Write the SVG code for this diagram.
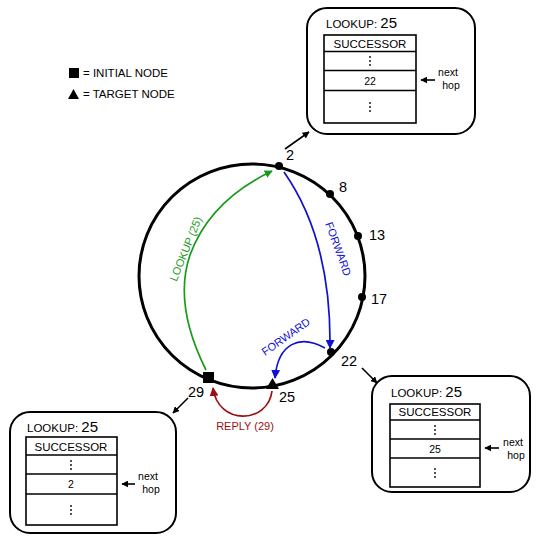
<svg xmlns="http://www.w3.org/2000/svg" width="536" height="537" viewBox="0 0 536 537">
<style>
text{font-family:"Liberation Sans",Arial,sans-serif;fill:#000}
.box{fill:#fff;stroke:#000;stroke-width:2}
.tbl{fill:#fff;stroke:#000;stroke-width:1.6}
.num{font-size:14.5px}
.t10{font-size:10.5px}
.hd{font-size:11.5px}
.lg{font-size:11.5px}
.lk{font-size:11.5px}
.big{font-size:15px}
.blk{stroke:#000;stroke-width:1.6;fill:none}
.dot{fill:#000}
</style>
<defs>
<marker id="ak" viewBox="0 0 10 10" refX="9" refY="5" markerWidth="7" markerHeight="7" markerUnits="userSpaceOnUse" orient="auto"><path d="M0,0 L10,5 L0,10 z" fill="#000"/></marker>
<marker id="ag" viewBox="0 0 10 10" refX="9" refY="5" markerWidth="8" markerHeight="8" markerUnits="userSpaceOnUse" orient="auto"><path d="M0,0 L10,5 L0,10 z" fill="#1a9a1a"/></marker>
<marker id="ab" viewBox="0 0 10 10" refX="9" refY="5" markerWidth="9" markerHeight="9" markerUnits="userSpaceOnUse" orient="auto"><path d="M0,0 L10,5 L0,10 z" fill="#1010d0"/></marker>
<marker id="ar" viewBox="0 0 10 10" refX="9" refY="5" markerWidth="9" markerHeight="9" markerUnits="userSpaceOnUse" orient="auto"><path d="M0,0 L10,5 L0,10 z" fill="#9a1010"/></marker>
<g id="vdots"><circle cx="0" cy="-4" r="0.9" class="dot"/><circle cx="0" cy="0" r="0.9" class="dot"/><circle cx="0" cy="4" r="0.9" class="dot"/></g>
</defs>

<g id="legend">
<rect x="69" y="68" width="10" height="10" fill="#000"/>
<text x="83" y="77" class="lg">= INITIAL NODE</text>
<path d="M68,99 L73.5,89 L79,99 z" fill="#000"/>
<text x="83" y="98" class="lg">= TARGET NODE</text>
</g>

<g id="ring">
<ellipse cx="252" cy="276" rx="113" ry="112" fill="none" stroke="#000" stroke-width="3"/>
</g>

<g id="node-2"><circle cx="279" cy="166" r="4" fill="#000"/><text x="286" y="160" class="num">2</text></g>
<g id="node-8"><circle cx="330" cy="194" r="4" fill="#000"/><text x="339" y="192" class="num">8</text></g>
<g id="node-13"><circle cx="358" cy="236" r="4" fill="#000"/><text x="369" y="240" class="num">13</text></g>
<g id="node-17"><circle cx="362" cy="297" r="4" fill="#000"/><text x="371" y="304" class="num">17</text></g>
<g id="node-22"><circle cx="331" cy="352" r="4" fill="#000"/><text x="341" y="366" class="num">22</text></g>
<g id="node-25"><path d="M266,389 L272.5,378 L279,389 z" fill="#000"/><text x="279" y="402" class="num">25</text></g>
<g id="node-29"><rect x="203" y="372" width="11" height="11" fill="#000"/><text x="188" y="397" class="num">29</text></g>

<g id="box-top">
<rect x="307" y="8" width="168" height="126" rx="20" class="box"/>
<text x="326" y="28"><tspan class="lk">LOOKUP: </tspan><tspan class="big">25</tspan></text>
<rect x="324" y="35" width="92" height="88" class="tbl"/>
<line x1="324" y1="51.5" x2="416" y2="51.5" class="blk"/>
<line x1="324" y1="70.5" x2="416" y2="70.5" class="blk"/>
<line x1="324" y1="90.5" x2="416" y2="90.5" class="blk"/>
<text x="370" y="47.5" class="hd" text-anchor="middle">SUCCESSOR</text>
<use href="#vdots" x="370" y="61"/>
<text x="370" y="85" class="t10" text-anchor="middle">22</text>
<use href="#vdots" x="370" y="107"/>
<text x="448" y="76" class="t10" text-anchor="middle">next</text>
<text x="451" y="89" class="t10" text-anchor="middle">hop</text>
</g>

<g id="box-right">
<rect x="372" y="376" width="158" height="116" rx="20" class="box"/>
<text x="391" y="397"><tspan class="lk">LOOKUP: </tspan><tspan class="big">25</tspan></text>
<rect x="390" y="404" width="90" height="83" class="tbl"/>
<line x1="390" y1="420" x2="480" y2="420" class="blk"/>
<line x1="390" y1="439" x2="480" y2="439" class="blk"/>
<line x1="390" y1="458" x2="480" y2="458" class="blk"/>
<text x="435" y="416" class="hd" text-anchor="middle">SUCCESSOR</text>
<use href="#vdots" x="435" y="430"/>
<text x="435" y="453" class="t10" text-anchor="middle">25</text>
<use href="#vdots" x="435" y="473"/>
<text x="513" y="446" class="t10" text-anchor="middle">next</text>
<text x="516" y="459" class="t10" text-anchor="middle">hop</text>
</g>

<g id="box-left">
<rect x="10" y="412" width="166" height="121" rx="20" class="box"/>
<text x="27" y="432"><tspan class="lk">LOOKUP: </tspan><tspan class="big">25</tspan></text>
<rect x="26" y="437" width="91" height="88" class="tbl"/>
<line x1="26" y1="455" x2="117" y2="455" class="blk"/>
<line x1="26" y1="474" x2="117" y2="474" class="blk"/>
<line x1="26" y1="494" x2="117" y2="494" class="blk"/>
<text x="71" y="450.5" class="hd" text-anchor="middle">SUCCESSOR</text>
<use href="#vdots" x="71" y="465"/>
<text x="71" y="488" class="t10" text-anchor="middle">2</text>
<use href="#vdots" x="71" y="510"/>
<text x="148" y="480" class="t10" text-anchor="middle">next</text>
<text x="151" y="493" class="t10" text-anchor="middle">hop</text>
</g>

<g id="connectors">
<line x1="285" y1="149" x2="309" y2="132" class="blk" marker-end="url(#ak)"/>
<line x1="362" y1="368" x2="377" y2="383" class="blk" marker-end="url(#ak)"/>
<line x1="188" y1="398" x2="173" y2="413" class="blk" marker-end="url(#ak)"/>
<line x1="435" y1="80" x2="421" y2="80" class="blk" marker-end="url(#ak)"/>
<line x1="499" y1="448" x2="485" y2="448" class="blk" marker-end="url(#ak)"/>
<line x1="135" y1="484" x2="122" y2="484" class="blk" marker-end="url(#ak)"/>

<path d="M206,370 C 186,330 178,290 190,255 C 202,222 228,192 272,171" fill="none" stroke="#1a9a1a" stroke-width="1.7" marker-end="url(#ag)"/>
<text transform="translate(186,249) rotate(-68)" font-size="11" style="fill:#1a9a1a" text-anchor="middle" dy="3.5">LOOKUP (25)</text>

<path d="M284,172 C 312,212 331,270 330,348" fill="none" stroke="#1010d0" stroke-width="1.7" marker-end="url(#ab)"/>
<text transform="translate(338,249) rotate(70)" font-size="11" style="fill:#1010d0" text-anchor="middle" dy="3.5">FORWARD</text>

<path d="M325,348 C 300,334 278,343 275,378" fill="none" stroke="#1010d0" stroke-width="1.7" marker-end="url(#ab)"/>
<text transform="translate(286,337) rotate(-35)" font-size="11" style="fill:#1010d0" text-anchor="middle" dy="3.5">FORWARD</text>

<path d="M272,391 C 268,424 218,426 213,388" fill="none" stroke="#9a1010" stroke-width="1.7" marker-end="url(#ar)"/>
<text x="245" y="430" font-size="11" style="fill:#9a1010" text-anchor="middle">REPLY (29)</text>
</g>
</svg>
